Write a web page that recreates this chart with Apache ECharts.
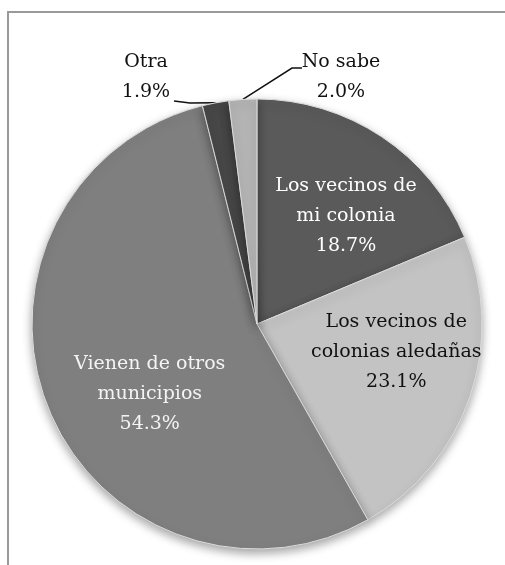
<!DOCTYPE html>
<html>
<head>
<meta charset="utf-8">
<script src="https://cdn.jsdelivr.net/npm/echarts@6/dist/echarts.min.js"></script>
<style>
  html, body { margin: 0; padding: 0; background: #ffffff; }
  #chart { width: 505px; height: 565px; }
</style>
</head>
<body>
<div id="chart"></div>
<script>
// Survey answers, clockwise from 12 o'clock
const categories = [
  'Los vecinos de\nmi colonia',
  'Los vecinos de\ncolonias aledañas',
  'Vienen de otros\nmunicipios',
  'Otra',
  'No sabe'
];
const shares = [18.7, 23.1, 54.3, 1.9, 2.0];

// Slice fills and label text colours
const sliceColors = ['#5a5a5a', '#c3c3c3', '#7f7f7f', '#474747', '#b4b4b4'];
const textColors = ['#ffffff', '#111111', '#f4f4f4', '#111111', '#111111'];

// Label placement tweaks: inside labels are nudged, the two thin slices get callouts
const insideShift = [[25, -12], [30, -9], [0, 27]];
const calloutPos = { 3: [146, 77], 4: [341, 77] };
// where each callout leader meets its label (bend point, end point)
const calloutJoin = {
  3: [[190, 103], [174, 101]],
  4: [[292, 68], [302, 68]]
};

const serif = 'DejaVu Serif';

const chart = echarts.init(document.getElementById('chart'), null, { renderer: 'canvas' });

const data = categories.map((name, i) => ({
  name: name,
  value: shares[i],
  itemStyle: { color: sliceColors[i] },
  label: {
    position: i < 3 ? 'inside' : 'outside',
    color: textColors[i],
    fontFamily: serif
  },
  labelLine: { show: i >= 3 }
}));

chart.setOption({
  backgroundColor: '#ffffff',
  animation: false,
  textStyle: { fontFamily: serif },
  graphic: [{
    type: 'rect',
    shape: { x: 8, y: 12, width: 600, height: 600 },
    style: { fill: 'none', stroke: '#9a9a9a', lineWidth: 2 },
    silent: true,
    z: -10
  }],
  series: [{
    type: 'pie',
    center: [257, 324],
    radius: [0, 225],
    startAngle: 90,
    clockwise: true,
    avoidLabelOverlap: false,
    itemStyle: {
      borderColor: '#dcdcdc',
      borderWidth: 1,
      shadowBlur: 10,
      shadowOffsetY: 4,
      shadowColor: 'rgba(0,0,0,0.35)'
    },
    label: {
      show: true,
      fontFamily: serif,
      fontSize: 19,
      lineHeight: 30,
      align: 'center',
      formatter: p => p.name + '\n' + p.value.toFixed(1) + '%'
    },
    labelLine: {
      show: true,
      length: 10,
      length2: 12,
      smooth: false,
      lineStyle: { color: '#111111', width: 1.5 }
    },
    labelLayout: function (params) {
      const i = params.dataIndex;
      if (calloutPos[i]) {
        const out = {
          x: calloutPos[i][0],
          y: calloutPos[i][1],
          align: 'center',
          verticalAlign: 'middle'
        };
        if (params.labelLinePoints) {
          out.labelLinePoints = [
            params.labelLinePoints[0],
            calloutJoin[i][0],
            calloutJoin[i][1]
          ];
        }
        return out;
      }
      return { dx: insideShift[i][0], dy: insideShift[i][1] };
    },
    data: data
  }]
});
</script>
</body>
</html>
